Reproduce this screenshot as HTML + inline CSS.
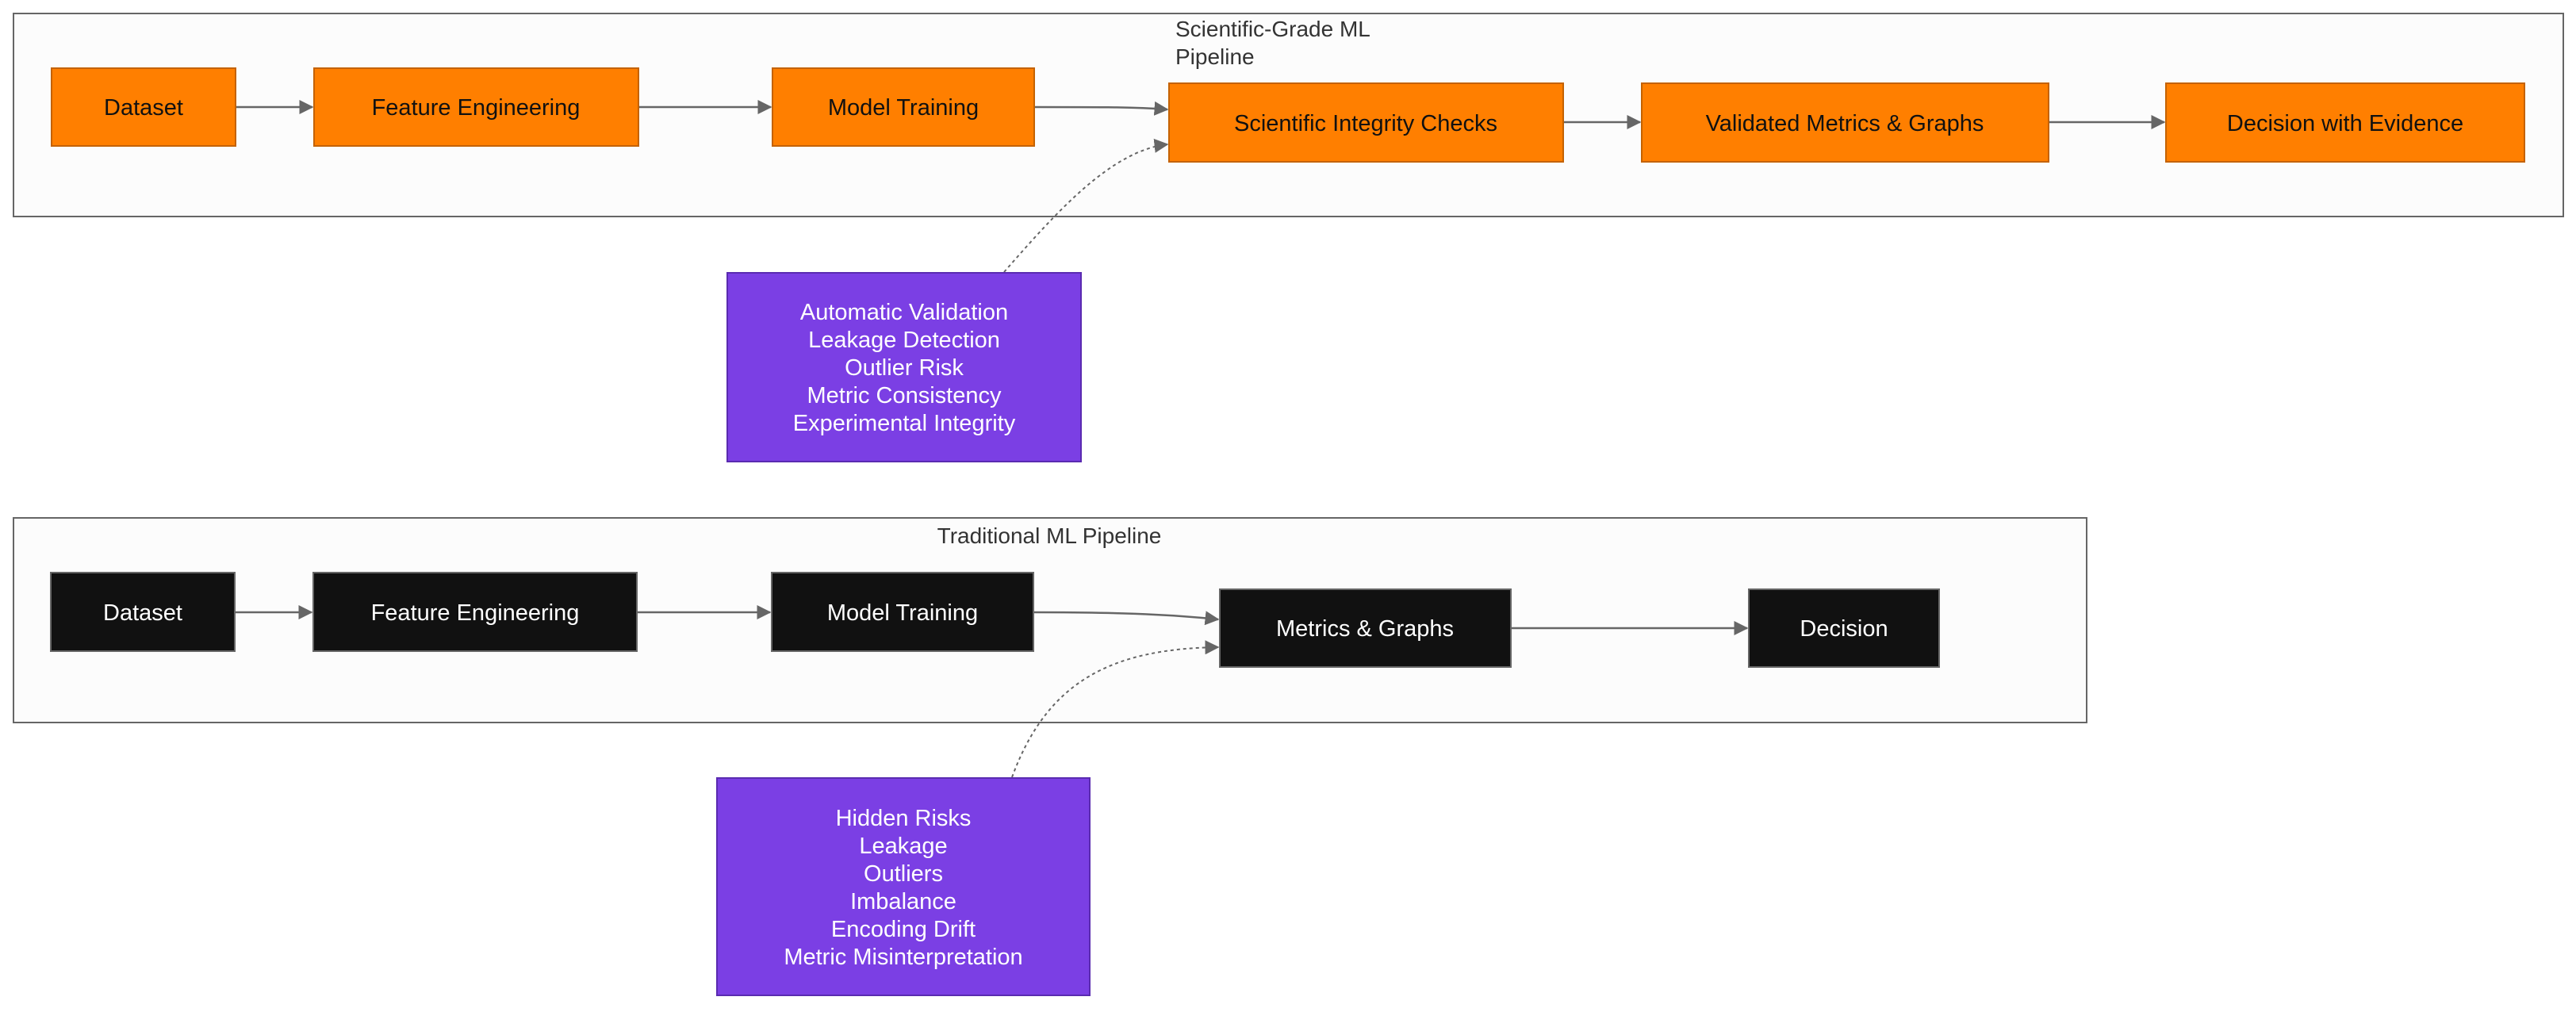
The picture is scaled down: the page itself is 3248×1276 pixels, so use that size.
<!DOCTYPE html>
<html><head><meta charset="utf-8"><style>
html,body{margin:0;padding:0;background:#fff;}
svg text{font-family:"Liberation Sans",sans-serif;}
</style></head><body>
<svg width="3248" height="1271" viewBox="0 0 3248 1271" xmlns="http://www.w3.org/2000/svg">
<defs>
<marker id="ar" viewBox="0 0 10 10" refX="9" refY="5" markerWidth="7" markerHeight="7" markerUnits="userSpaceOnUse" orient="auto">
</marker>
<marker id="a" viewBox="0 0 12 12" refX="11" refY="6" markerWidth="18" markerHeight="18" markerUnits="userSpaceOnUse" orient="auto"><path d="M0,0 L12,6 L0,12 z" fill="#666"/></marker>
</defs>
<!-- clusters -->
<rect x="17" y="17" width="3215" height="256" fill="#fcfcfc" stroke="#666" stroke-width="2"/>
<rect x="17" y="653" width="2614" height="258" fill="#fcfcfc" stroke="#666" stroke-width="2"/>
<text x="1482" y="46" font-size="28" fill="#333">Scientific-Grade ML</text>
<text x="1482" y="81" font-size="28" fill="#333">Pipeline</text>
<text x="1323" y="685" font-size="28" fill="#333" text-anchor="middle">Traditional ML Pipeline</text>

<g stroke="#666" stroke-width="2.5" fill="none">
<path d="M297,135 L394,135" marker-end="url(#a)"/>
<path d="M805,135 L972,135" marker-end="url(#a)"/>
<path d="M1304,135 C1400,135 1430,135 1472,138" marker-end="url(#a)"/>
<path d="M1971,154 L2068,154" marker-end="url(#a)"/>
<path d="M2583,154 L2729,154" marker-end="url(#a)"/>
<path d="M1266,343 C1330,270 1400,190 1472,182" stroke-dasharray="4,4" stroke-width="2" marker-end="url(#a)"/>
<path d="M296,772 L393,772" marker-end="url(#a)"/>
<path d="M803,772 L971,772" marker-end="url(#a)"/>
<path d="M1303,772 C1400,772 1470,774 1536,781" marker-end="url(#a)"/>
<path d="M1905,792 L2203,792" marker-end="url(#a)"/>
<path d="M1276,980 C1320,860 1400,818 1536,816" stroke-dasharray="4,4" stroke-width="2" marker-end="url(#a)"/>
</g>

<g fill="#ff7f00" stroke="#c46200" stroke-width="2">
<rect x="65" y="86" width="232" height="98"/>
<rect x="396" y="86" width="409" height="98"/>
<rect x="974" y="86" width="330" height="98"/>
<rect x="1474" y="105" width="497" height="99"/>
<rect x="2070" y="105" width="513" height="99"/>
<rect x="2731" y="105" width="452" height="99"/>
</g>
<g font-size="29" fill="#111" text-anchor="middle">
<text x="181" y="145">Dataset</text>
<text x="600" y="145">Feature Engineering</text>
<text x="1139" y="145">Model Training</text>
<text x="1722" y="165">Scientific Integrity Checks</text>
<text x="2326" y="165">Validated Metrics &amp; Graphs</text>
<text x="2957" y="165">Decision with Evidence</text>
</g>

<g fill="#111" stroke="#666" stroke-width="2">
<rect x="64" y="722" width="232" height="99"/>
<rect x="395" y="722" width="408" height="99"/>
<rect x="973" y="722" width="330" height="99"/>
<rect x="1538" y="743" width="367" height="98"/>
<rect x="2205" y="743" width="240" height="98"/>
</g>
<g font-size="29" fill="#fff" text-anchor="middle">
<text x="180" y="782">Dataset</text>
<text x="599" y="782">Feature Engineering</text>
<text x="1138" y="782">Model Training</text>
<text x="1721" y="802">Metrics &amp; Graphs</text>
<text x="2325" y="802">Decision</text>
</g>

<rect x="917" y="344" width="446" height="238" fill="#7b3fe4" stroke="#5a2bb0" stroke-width="2"/>
<g font-size="29" fill="#fff" text-anchor="middle">
<text x="1140" y="403">Automatic Validation</text>
<text x="1140" y="438">Leakage Detection</text>
<text x="1140" y="473">Outlier Risk</text>
<text x="1140" y="508">Metric Consistency</text>
<text x="1140" y="543">Experimental Integrity</text>
</g>
<rect x="904" y="981" width="470" height="274" fill="#7b3fe4" stroke="#5a2bb0" stroke-width="2"/>
<g font-size="29" fill="#fff" text-anchor="middle">
<text x="1139" y="1041">Hidden Risks</text>
<text x="1139" y="1076">Leakage</text>
<text x="1139" y="1111">Outliers</text>
<text x="1139" y="1146">Imbalance</text>
<text x="1139" y="1181">Encoding Drift</text>
<text x="1139" y="1216">Metric Misinterpretation</text>
</g>
</svg>
</body></html>
